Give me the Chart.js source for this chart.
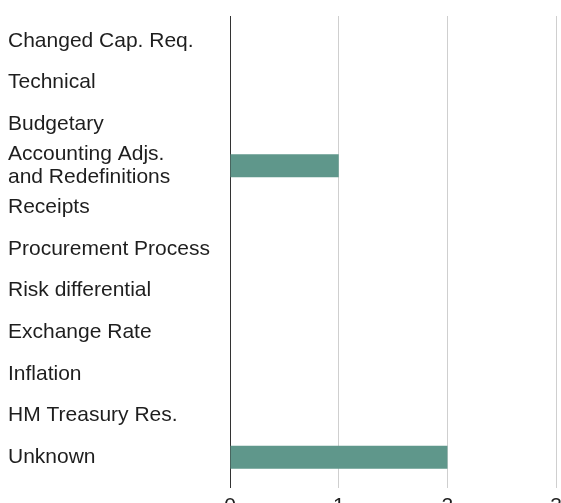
<!DOCTYPE html>
<html lang="en">

<head>
    <meta charset="UTF-8">
    <title>Variance by Cause</title>
    <script src="https://cdn.jsdelivr.net/npm/chart.js"></script>
    <style>
        html, body { margin: 0; padding: 0; background: #fff; overflow: hidden; }
        #wrap { width: 568px; height: 520px; position: relative; }
    </style>
</head>

<body>
    <div id="wrap">
        <canvas id="causeChart"></canvas>
    </div>

    <script>
        // categories, top to bottom
        const causes = [
            'Changed Cap. Req.',
            'Technical',
            'Budgetary',
            ['Accounting Adjs.', 'and Redefinitions'],
            'Receipts',
            'Procurement Process',
            'Risk differential',
            'Exchange Rate',
            'Inflation',
            'HM Treasury Res.',
            'Unknown'
        ];
        const counts = [0, 0, 0, 1, 0, 0, 0, 0, 0, 0, 2];
        const xTicks = [0, 1, 2, 3];

        const barColor = '#5f978b';
        const textColor = '#1e1e1e';
        const gridColor = '#cfcfcf';
        const zeroColor = '#333';

        // vertical grid lines run a few pixels above the plot area
        const gridOverhang = {
            id: 'gridOverhang',
            beforeDatasetsDraw(chart) {
                const { ctx, chartArea, scales } = chart;
                ctx.save();
                ctx.lineWidth = 1;
                xTicks.forEach(v => {
                    const x = Math.round(scales.x.getPixelForValue(v) - 0.5) + 0.5;
                    ctx.strokeStyle = v === 0 ? zeroColor : gridColor;
                    ctx.beginPath();
                    ctx.moveTo(x, chartArea.top - 4);
                    ctx.lineTo(x, chartArea.top);
                    ctx.stroke();
                });
                ctx.restore();
            }
        };

        new Chart(document.getElementById('causeChart'), {
            type: 'bar',
            data: {
                labels: causes,
                datasets: [{
                    data: counts,
                    backgroundColor: barColor,
                    borderWidth: 0,
                    categoryPercentage: 1,
                    barPercentage: 0.55
                }]
            },
            options: {
                indexAxis: 'y',
                responsive: true,
                maintainAspectRatio: false,
                animation: false,
                layout: { padding: { top: 20, left: 8, right: 0, bottom: 0 } },
                plugins: {
                    legend: { display: false },
                    tooltip: { enabled: false }
                },
                scales: {
                    x: {
                        min: xTicks[0],
                        max: xTicks[xTicks.length - 1],
                        afterBuildTicks: s => { s.ticks = xTicks.map(v => ({ value: v })); },
                        afterFit: s => { s.height = 42; },
                        grid: {
                            color: ctx => ctx.tick && ctx.tick.value === 0 ? zeroColor : gridColor,
                            lineWidth: 1,
                            tickLength: 10,
                            drawTicks: true
                        },
                        border: { display: false },
                        ticks: {
                            color: textColor,
                            padding: 6,
                            font: { family: 'Liberation Sans', size: 21 }
                        }
                    },
                    y: {
                        afterFit: s => { s.width = 222; },
                        grid: { display: false },
                        border: { display: false },
                        ticks: {
                            autoSkip: false,
                            crossAlign: 'far',
                            color: textColor,
                            font: { family: 'Liberation Sans', size: 21, lineHeight: 1.1 }
                        }
                    }
                }
            },
            plugins: [gridOverhang]
        });
    </script>
</body>

</html>
